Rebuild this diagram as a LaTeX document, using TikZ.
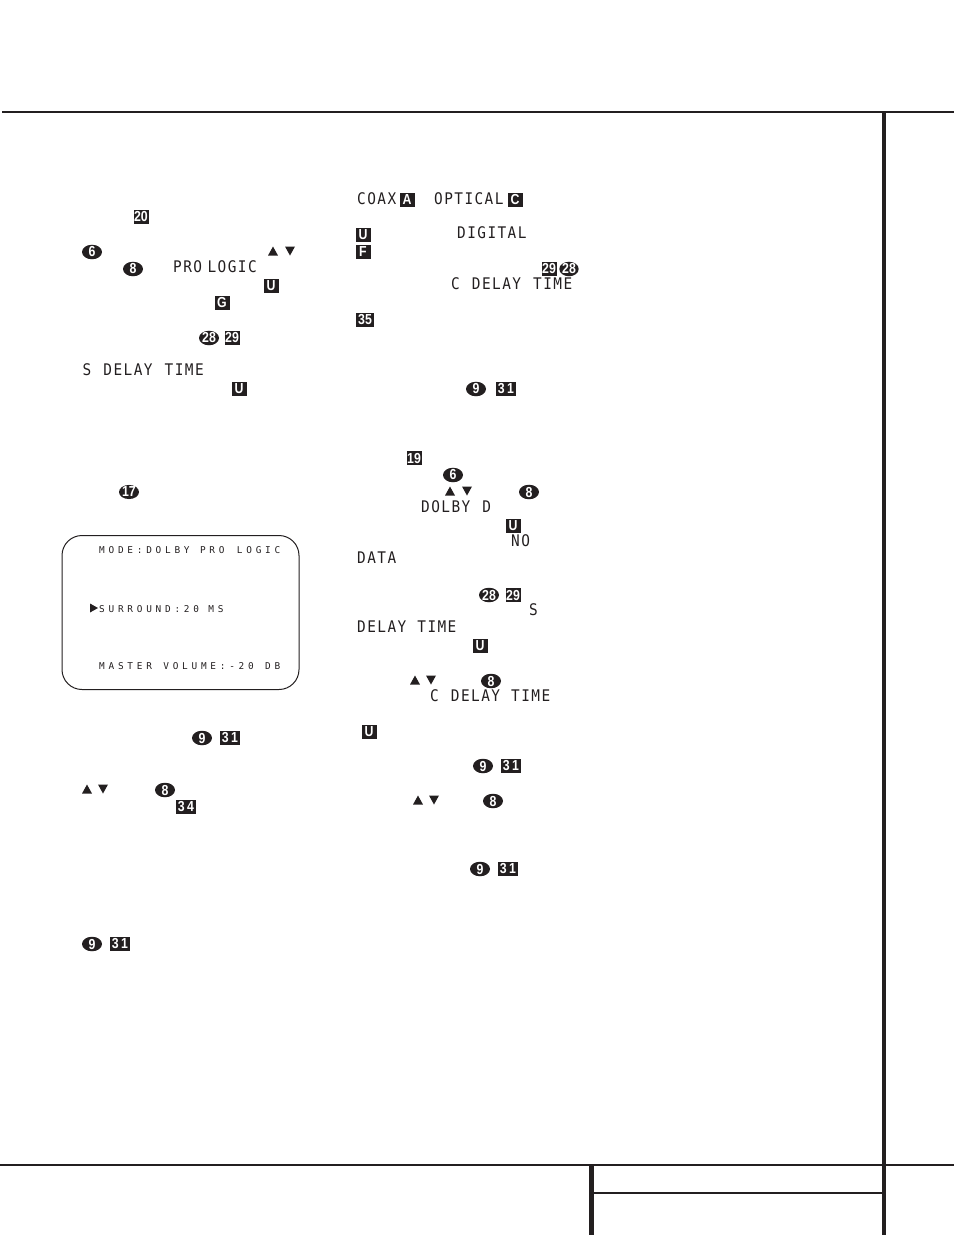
\documentclass[tikz,border=0pt]{standalone}
\usepackage{fontspec}
\usetikzlibrary{shapes.geometric}
\newfontfamily\lcdfont[FakeStretch=0.9,LetterSpace=9]{DejaVu Sans Mono}
\newfontfamily\screenfont[LetterSpace=40]{DejaVu Sans Mono}
\newfontfamily\keyfont[FakeStretch=0.85]{Liberation Sans}
\definecolor{ink}{HTML}{231F20}
\tikzset{
  rule/.style={ink, line width=2pt},
  heavyrule/.style={ink, line width=4.4pt},
  lcdtext/.style={anchor=base west, inner sep=0pt, xshift=0.5pt, yshift=0.7pt, text=ink, font=\lcdfont\fontsize{16}{18}\selectfont},
  screentext/.style={anchor=base west, inner sep=0pt, text=ink, font=\screenfont\fontsize{9.4}{11}\selectfont},
  keybox/.style={rectangle, fill=ink, text=white, inner sep=0pt, minimum width=15pt, minimum height=14.5pt, font=\keyfont\bfseries\fontsize{14.5}{15}\selectfont},
  widebox/.style={keybox, minimum width=20pt},
  keyoval/.style={ellipse, fill=ink, text=white, inner sep=0pt, minimum width=20pt, minimum height=14pt, font=\keyfont\bfseries\fontsize{14.5}{15}\selectfont},
  uptri/.style={fill=ink},
  downtri/.style={fill=ink}
}
\begin{document}
\begin{tikzpicture}[x=1pt,y=-1pt]
\useasboundingbox (0,0) rectangle (954,1235);

% Page rules
\draw [rule] (2,112) -- (954,112);
\draw [heavyrule] (884,112) -- (884,1235);
\draw [rule] (0,1165) -- (954,1165);
\draw [heavyrule] (591.5,1165) -- (591.5,1235);
\draw [rule] (592,1193) -- (884,1193);

% Left column
\draw (141,217) node [keybox] (boxTwenty) {20};
\draw (92,252) node [keyoval] (ovalSix) {6};
\fill [uptri, shift={(273,251)}] (-5,4.5) -- (5,4.5) -- (0,-4.5) -- cycle;
\fill [downtri, shift={(290,251)}] (-5,-4.5) -- (5,-4.5) -- (0,4.5) -- cycle;
\draw (133,269) node [keyoval] (ovalEight) {8};
\draw (172.5,273) node [lcdtext] (textProLogic) {PRO\kern5.5pt LOGIC};
\draw (271,286) node [keybox] (boxUa) {U};
\draw (222,303) node [keybox] (boxG) {G};
\draw (209,338) node [keyoval] (ovalTwentyEight) {28};
\draw (232,338) node [keybox] (boxTwentyNine) {29};
\draw (82,376) node [lcdtext] (textSdelay) {S\kern2pt{} DELAY\kern2pt{} TIME};
\draw (239,389) node [keybox] (boxUb) {U};
\draw (129,492) node [keyoval] (ovalSeventeen) {17};

% Screen
\draw [ink, line width=1pt, rounded corners=20pt] (62,535.5) rectangle (299,689.5);
\draw (99,553) node [screentext] (textMode) {MODE:DOLBY\kern1pt{} PRO\kern3pt{} LOGIC};
\fill [uptri, shift={(94,608)}] (-4,-4.5) -- (4,0) -- (-4,4.5) -- cycle;
\draw (99,612) node [screentext] (textSurround) {SURROUND:20 MS};
\draw (99,669.5) node [screentext] (textMaster) {MASTER\kern2pt{} VOLUME:-20\kern2pt{} DB};

% Left column, below the screen
\draw (202,738) node [keyoval] (ovalNineA) {9};
\draw (230,738) node [widebox] (boxThirtyOneA) {3\,1};
\fill [uptri, shift={(87,789)}] (-5,4.5) -- (5,4.5) -- (0,-4.5) -- cycle;
\fill [downtri, shift={(103,789)}] (-5,-4.5) -- (5,-4.5) -- (0,4.5) -- cycle;
\draw (165,790) node [keyoval] (ovalEightA) {8};
\draw (186,807) node [widebox] (boxThirtyFour) {3\,4};
\draw (92,944) node [keyoval] (ovalNineB) {9};
\draw (120,944) node [widebox] (boxThirtyOneB) {3\,1};

% Right column
\draw (356.5,205) node [lcdtext] (textCoax) {COAX};
\draw (407,200) node [keybox] (boxA) {A};
\draw (433.5,205) node [lcdtext] (textOptical) {OPTICAL};
\draw (515,200) node [keybox] (boxC) {C};
\draw (363,235) node [keybox] (boxUc) {U};
\draw (456.5,239) node [lcdtext] (textDigital) {DIGITAL};
\draw (363,252) node [keybox] (boxF) {F};
\draw (549,269) node [keybox] (boxTwentyNineA) {29};
\draw (569,269) node [keyoval, minimum width=15pt] (ovalTwentyEightA) {28};
\draw (450.5,290) node [lcdtext] (textCdelay) {C\kern2pt{} DELAY\kern2pt{} TIME};
\draw (365,320) node [widebox, minimum width=18pt] (boxThirtyFive) {35};
\draw (476,389) node [keyoval] (ovalNineC) {9};
\draw (506,389) node [widebox] (boxThirtyOneC) {3\,1};

\draw (414,458) node [keybox] (boxNineteen) {19};
\draw (453,475) node [keyoval] (ovalSixA) {6};
\fill [uptri, shift={(450,491)}] (-5,4.5) -- (5,4.5) -- (0,-4.5) -- cycle;
\fill [downtri, shift={(467,491)}] (-5,-4.5) -- (5,-4.5) -- (0,4.5) -- cycle;
\draw (529,492) node [keyoval] (ovalEightB) {8};
\draw (420.5,513) node [lcdtext] (textDolby) {DOLBY\kern2pt{} D};
\draw (513,526) node [keybox] (boxUd) {U};
\draw (510.5,547) node [lcdtext] (textNo) {NO};
\draw (356.5,564) node [lcdtext] (textData) {DATA};
\draw (489,595) node [keyoval] (ovalTwentyEightB) {28};
\draw (513,595) node [keybox] (boxTwentyNineB) {29};
\draw (528.5,616) node [lcdtext] (textS) {S};
\draw (356.5,633) node [lcdtext] (textDelay) {DELAY\kern1pt{} TIME};
\draw (480,646) node [keybox] (boxUe) {U};
\fill [uptri, shift={(415,680)}] (-5,4.5) -- (5,4.5) -- (0,-4.5) -- cycle;
\fill [downtri, shift={(431,680)}] (-5,-4.5) -- (5,-4.5) -- (0,4.5) -- cycle;
\draw (491,681) node [keyoval] (ovalEightC) {8};
\draw (429.5,702) node [lcdtext] (textCdelayA) {C\kern2pt{} DELAY\kern1pt{} TIME};
\draw (369,732) node [keybox] (boxUf) {U};
\draw (483,766) node [keyoval] (ovalNineD) {9};
\draw (511,766) node [widebox] (boxThirtyOneD) {3\,1};
\fill [uptri, shift={(418,800)}] (-5,4.5) -- (5,4.5) -- (0,-4.5) -- cycle;
\fill [downtri, shift={(434,800)}] (-5,-4.5) -- (5,-4.5) -- (0,4.5) -- cycle;
\draw (493,801) node [keyoval] (ovalEightD) {8};
\draw (480,869) node [keyoval] (ovalNineE) {9};
\draw (508,869) node [widebox] (boxThirtyOneE) {3\,1};
\end{tikzpicture}
\end{document}
